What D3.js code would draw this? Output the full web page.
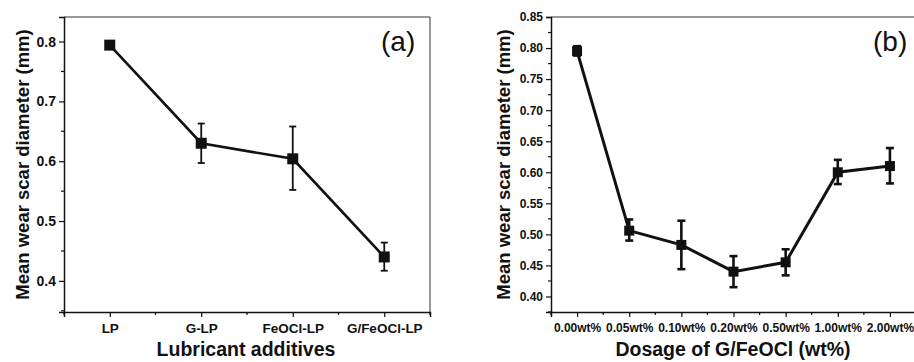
<!DOCTYPE html>
<html>
<head>
<meta charset="utf-8">
<script src="https://cdn.jsdelivr.net/npm/d3@7"></script>
<style>
  body { margin: 0; background: #fff; }
  svg { display: block; font-family: "Liberation Sans", Arial, sans-serif; }
</style>
</head>
<body>
<svg id="chart" width="914" height="362"></svg>
<script>
// Panel (a): lubricant additives
const additives = ["LP", "G-LP", "FeOCl-LP", "G/FeOCl-LP"];
const additiveMean = [0.794, 0.630, 0.604, 0.440];
const additiveErrLow = [0.788, 0.597, 0.552, 0.417];
const additiveErrHigh = [0.800, 0.663, 0.658, 0.464];
const additiveTicks = [0.4, 0.5, 0.6, 0.7, 0.8];

// Panel (b): dosage of G/FeOCl
const dosages = ["0.00wt%", "0.05wt%", "0.10wt%", "0.20wt%", "0.50wt%", "1.00wt%", "2.00wt%"];
const dosageMean = [0.795, 0.506, 0.483, 0.440, 0.455, 0.600, 0.610];
const dosageErrLow = [0.788, 0.490, 0.444, 0.415, 0.434, 0.581, 0.582];
const dosageErrHigh = [0.803, 0.524, 0.522, 0.465, 0.476, 0.620, 0.639];
const dosageTicks = [0.40, 0.45, 0.50, 0.55, 0.60, 0.65, 0.70, 0.75, 0.80, 0.85];

const svg = d3.select("#chart");
const ink = "#111";

function drawPanel(p) {
  const g = svg.append("g");
  const n = p.cats.length;

  const x = d3.scaleLinear().domain([0.5, n + 0.5]).range([p.left, p.right]);
  const y = d3.scaleLinear().domain(p.yDomain).range([p.bottom, p.top]);

  // frame (top + right)
  g.append("path")
    .attr("d", `M${p.left},${p.top}H${p.right}V${p.bottom}`)
    .attr("fill", "none").attr("stroke", "#333").attr("stroke-width", 1);

  // y axis: major ticks with labels, minor ticks between
  const yAxis = d3.axisLeft(y).tickValues(p.yTicks).tickSize(5).tickPadding(3)
    .tickFormat(d3.format(p.yFmt));
  const ya = g.append("g").attr("transform", `translate(${p.left},0)`).call(yAxis);
  ya.select(".domain").attr("stroke", ink).attr("stroke-width", 1.5);
  ya.selectAll(".tick line").attr("stroke", ink).attr("stroke-width", 1.2);
  ya.selectAll(".tick text").attr("fill", ink).attr("font-size", p.yFont)
    .attr("font-weight", "bold");

  const minorY = d3.range(p.minorStart, p.yDomain[1] + 1e-9, p.minorStep)
    .filter(v => !p.yTicks.some(t => Math.abs(t - v) < 1e-6));
  g.append("g").selectAll("line").data(minorY).join("line")
    .attr("x1", p.left - 3).attr("x2", p.left)
    .attr("y1", d => y(d)).attr("y2", d => y(d))
    .attr("stroke", ink).attr("stroke-width", 1.2);

  // x axis
  const xAxis = d3.axisBottom(x).tickValues(d3.range(1, n + 1)).tickSize(5).tickPadding(6)
    .tickFormat((d, i) => p.cats[i]);
  const xa = g.append("g").attr("transform", `translate(0,${p.bottom})`).call(xAxis);
  xa.select(".domain").attr("stroke", ink).attr("stroke-width", 1.5);
  xa.selectAll(".tick line").attr("stroke", ink).attr("stroke-width", 1.2);
  xa.selectAll(".tick text").attr("fill", ink).attr("font-size", p.xFont)
    .attr("font-weight", "bold");

  const minorX = d3.range(0.5, n + 0.51, 1);
  g.append("g").selectAll("line").data(minorX).join("line")
    .attr("x1", d => x(d)).attr("x2", d => x(d))
    .attr("y1", p.bottom).attr("y2", p.bottom + 3)
    .attr("stroke", ink).attr("stroke-width", 1.2);

  // connecting line
  const pts = p.mean.map((v, i) => [x(i + 1), y(v)]);
  g.append("path").datum(pts)
    .attr("d", d3.line())
    .attr("fill", "none").attr("stroke", ink).attr("stroke-width", p.lineW);

  // error bars
  const eb = g.append("g").selectAll("g").data(p.mean).join("g")
    .attr("stroke", ink).attr("stroke-width", p.errW);
  eb.append("line")
    .attr("x1", (d, i) => x(i + 1)).attr("x2", (d, i) => x(i + 1))
    .attr("y1", (d, i) => y(p.lo[i])).attr("y2", (d, i) => y(p.hi[i]));
  eb.append("line")
    .attr("x1", (d, i) => x(i + 1) - p.cap).attr("x2", (d, i) => x(i + 1) + p.cap)
    .attr("y1", (d, i) => y(p.hi[i])).attr("y2", (d, i) => y(p.hi[i]));
  eb.append("line")
    .attr("x1", (d, i) => x(i + 1) - p.cap).attr("x2", (d, i) => x(i + 1) + p.cap)
    .attr("y1", (d, i) => y(p.lo[i])).attr("y2", (d, i) => y(p.lo[i]));

  // square markers
  const s = p.marker;
  g.append("g").selectAll("rect").data(p.mean).join("rect")
    .attr("x", (d, i) => x(i + 1) - s / 2).attr("y", d => y(d) - s / 2)
    .attr("width", s).attr("height", s).attr("fill", ink);

  // axis titles
  g.append("text")
    .attr("transform", `translate(${p.yTitleX},${(p.top + p.bottom) / 2}) rotate(-90)`)
    .attr("text-anchor", "middle").attr("font-size", 18.5).attr("font-weight", "bold")
    .attr("fill", ink).text("Mean wear scar diameter (mm)");
  g.append("text")
    .attr("x", p.xTitleX).attr("y", 356)
    .attr("text-anchor", "middle").attr("font-size", 19.5).attr("font-weight", "bold")
    .attr("fill", ink).text(p.xTitle);

  // panel label
  g.append("text")
    .attr("x", p.tagX).attr("y", 51)
    .attr("font-size", 28).attr("fill", ink).text(p.tag);
}

drawPanel({
  cats: additives, mean: additiveMean, lo: additiveErrLow, hi: additiveErrHigh,
  yTicks: additiveTicks, yFmt: ".1f", yDomain: [0.348, 0.841], minorStart: 0.35, minorStep: 0.05,
  left: 64, right: 430, top: 17, bottom: 312,
  yFont: 14, xFont: 13.5, lineW: 2.6, errW: 1.8, cap: 3.5, marker: 11,
  yTitleX: 29, xTitle: "Lubricant additives", xTitleX: 246, tag: "(a)", tagX: 381
});

drawPanel({
  cats: dosages, mean: dosageMean, lo: dosageErrLow, hi: dosageErrHigh,
  yTicks: dosageTicks, yFmt: ".2f", yDomain: [0.375, 0.85], minorStart: 0.375, minorStep: 0.025,
  left: 551, right: 916, top: 17, bottom: 312,
  yFont: 12, xFont: 12, lineW: 3, errW: 2.6, cap: 4, marker: 10,
  yTitleX: 510, xTitle: "Dosage of G/FeOCl (wt%)", xTitleX: 733, tag: "(b)", tagX: 873
});
</script>
</body>
</html>
